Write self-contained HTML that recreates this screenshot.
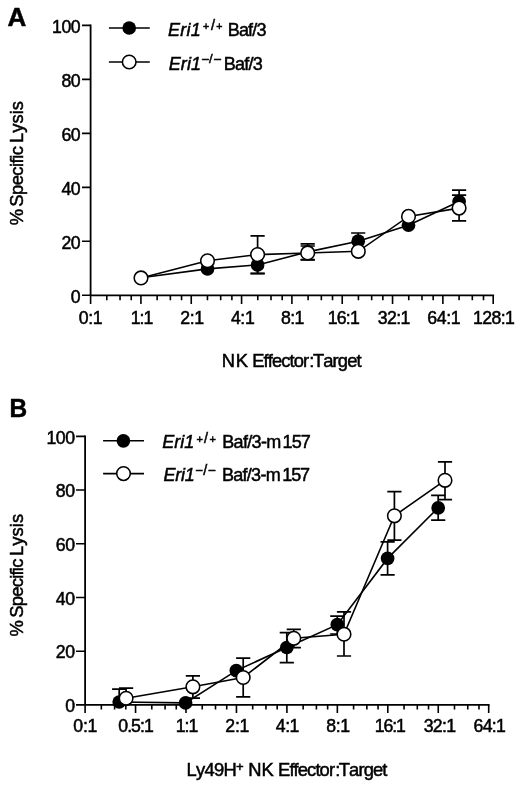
<!DOCTYPE html>
<html lang="en"><head><meta charset="utf-8"><title>Figure</title>
<style>
html,body{margin:0;padding:0;background:#fff}
svg{display:block}
text{font-family:'Liberation Sans',sans-serif;fill:#000;stroke:#000;stroke-width:0.5;font-kerning:none;white-space:pre}
.ln{stroke:#000;stroke-width:1.6;fill:none}
.ax{stroke:#000;stroke-width:1.8;fill:none}
.tk{stroke:#000;stroke-width:1.6;fill:none}
.eb{stroke:#000;stroke-width:1.7;fill:none}
.fc{fill:#000;stroke:none}
.oc{fill:#fff;stroke:#000;stroke-width:1.55}
</style></head>
<body>
<svg width="520" height="789" viewBox="0 0 520 789">
<rect width="520" height="789" fill="#fff"/>
<g id="panelA">
<path class="ax" d="M90.6 24.5V295.3"/>
<path class="ax" d="M90.6 295.3H494.1"/>
<path class="tk" d="M82 295.3H90.6M82 241.32H90.6M82 187.34H90.6M82 133.36H90.6M82 79.38H90.6M82 25.4H90.6M90.6 295.3V304M106.8 295.3V300.3M120.04 295.3V300.3M131.23 295.3V300.3M140.93 295.3V304M157.13 295.3V300.3M170.36 295.3V300.3M181.56 295.3V300.3M191.25 295.3V304M207.45 295.3V300.3M220.69 295.3V300.3M231.88 295.3V300.3M241.58 295.3V304M257.78 295.3V300.3M271.01 295.3V300.3M282.21 295.3V300.3M291.9 295.3V304M308.1 295.3V300.3M321.34 295.3V300.3M332.53 295.3V300.3M342.23 295.3V304M358.43 295.3V300.3M371.66 295.3V300.3M382.86 295.3V300.3M392.55 295.3V304M408.75 295.3V300.3M421.99 295.3V300.3M433.18 295.3V300.3M442.88 295.3V304M459.08 295.3V300.3M472.31 295.3V300.3M483.51 295.3V300.3M493.2 295.3V304"/>
<path class="ln" d="M141 277.8L207.5 268.9L257.6 264.9L307.7 251.9L358.2 241.2L408.5 225.2L459.1 201.6"/>
<path class="eb" d="M257.6 255.8V273.6M250.5 255.8H264.7M250.5 273.6H264.7M307.7 243.9V259.7M300.6 243.9H314.8M300.6 259.7H314.8M358.2 233V249.4M351.1 233H365.3M351.1 249.4H365.3M459.1 190.2V201.6M452 190.2H466.2"/>
<circle class="fc" cx="141" cy="277.8" r="6.85"/>
<circle class="fc" cx="207.5" cy="268.9" r="6.85"/>
<circle class="fc" cx="257.6" cy="264.9" r="6.85"/>
<circle class="fc" cx="307.7" cy="251.9" r="6.85"/>
<circle class="fc" cx="358.2" cy="241.2" r="6.85"/>
<circle class="fc" cx="408.5" cy="225.2" r="6.85"/>
<circle class="fc" cx="459.1" cy="201.6" r="6.85"/>
<path class="ln" d="M141 277.9L207.5 260.8L257.6 254.6L307.7 253L358.3 251.3L408.5 216.4L459.1 208.1"/>
<path class="eb" d="M257.6 235.8V273.4M250.5 235.8H264.7M250.5 273.4H264.7M307.7 246V259.8M300.6 246H314.8M300.6 259.8H314.8M459.1 195.2V220.9M452 195.2H466.2M452 220.9H466.2"/>
<circle class="oc" cx="141" cy="277.9" r="6.8"/>
<circle class="oc" cx="207.5" cy="260.8" r="6.8"/>
<circle class="oc" cx="257.6" cy="254.6" r="6.8"/>
<circle class="oc" cx="307.7" cy="253" r="6.8"/>
<circle class="oc" cx="358.3" cy="251.3" r="6.8"/>
<circle class="oc" cx="408.5" cy="216.4" r="6.8"/>
<circle class="oc" cx="459.1" cy="208.1" r="6.8"/>
<path class="ln" d="M108.9 28H149.8"/>
<circle class="fc" cx="129.2" cy="28" r="6.85"/>
<path class="ln" d="M108.9 62H149.8"/>
<circle class="oc" cx="129.2" cy="62" r="6.8"/>
</g>
<g id="panelB">
<path class="ax" d="M85.1 435.45V704.9"/>
<path class="ax" d="M85.1 704.9H489.6"/>
<path class="tk" d="M76 704.9H85.1M76 651.19H85.1M76 597.48H85.1M76 543.77H85.1M76 490.06H85.1M76 436.35H85.1M85.1 704.9V712.9M101.34 704.9V709.6M114.61 704.9V709.6M125.83 704.9V709.6M135.55 704.9V712.9M151.79 704.9V709.6M165.06 704.9V709.6M176.28 704.9V709.6M186 704.9V712.9M202.24 704.9V709.6M215.51 704.9V709.6M226.73 704.9V709.6M236.45 704.9V712.9M252.69 704.9V709.6M265.96 704.9V709.6M277.18 704.9V709.6M286.9 704.9V712.9M303.14 704.9V709.6M316.41 704.9V709.6M327.63 704.9V709.6M337.35 704.9V712.9M353.59 704.9V709.6M366.86 704.9V709.6M378.08 704.9V709.6M387.8 704.9V712.9M404.04 704.9V709.6M417.31 704.9V709.6M428.53 704.9V709.6M438.25 704.9V712.9M454.49 704.9V709.6M467.76 704.9V709.6M478.98 704.9V709.6M488.7 704.9V712.9"/>
<path class="ln" d="M119.2 702L185.6 702.9L236.3 670.6L286.8 647.5L337.3 624.7L387.6 558.4L438.2 507.8"/>
<path class="eb" d="M119.2 689.1V702M112.1 689.1H126.3M286.8 632.7V662.7M279.7 632.7H293.9M279.7 662.7H293.9M337.3 616.2V634M330.2 616.2H344.4M330.2 634H344.4M387.6 541.9V574.8M380.5 541.9H394.7M380.5 574.8H394.7M438.2 495.3V520.2M431.1 495.3H445.3M431.1 520.2H445.3"/>
<circle class="fc" cx="119.2" cy="702" r="6.85"/>
<circle class="fc" cx="185.6" cy="702.9" r="6.85"/>
<circle class="fc" cx="236.3" cy="670.6" r="6.85"/>
<circle class="fc" cx="286.8" cy="647.5" r="6.85"/>
<circle class="fc" cx="337.3" cy="624.7" r="6.85"/>
<circle class="fc" cx="387.6" cy="558.4" r="6.85"/>
<circle class="fc" cx="438.2" cy="507.8" r="6.85"/>
<path class="ln" d="M126.1 698.3L192.9 686.8L243.2 677.5L293.8 638.3L344 634.2L394.4 515.8L445 480.3"/>
<path class="eb" d="M126.1 688.2V698.3M119 688.2H133.2M192.9 675.8V698.1M185.8 675.8H200M185.8 698.1H200M243.2 658.1V696.9M236.1 658.1H250.3M236.1 696.9H250.3M293.8 629.3V647.7M286.7 629.3H300.9M286.7 647.7H300.9M344 611.8V656M336.9 611.8H351.1M336.9 656H351.1M394.4 491.7V540.2M387.3 491.7H401.5M387.3 540.2H401.5M445 461.8V499.6M437.9 461.8H452.1M437.9 499.6H452.1"/>
<circle class="oc" cx="126.1" cy="698.3" r="6.8"/>
<circle class="oc" cx="192.9" cy="686.8" r="6.8"/>
<circle class="oc" cx="243.2" cy="677.5" r="6.8"/>
<circle class="oc" cx="293.8" cy="638.3" r="6.8"/>
<circle class="oc" cx="344" cy="634.2" r="6.8"/>
<circle class="oc" cx="394.4" cy="515.8" r="6.8"/>
<circle class="oc" cx="445" cy="480.3" r="6.8"/>
<path class="ln" d="M103.1 440.8H144"/>
<circle class="fc" cx="123.4" cy="440.8" r="6.85"/>
<path class="ln" d="M103.1 473.6H144"/>
<circle class="oc" cx="123.5" cy="473.6" r="6.8"/>
</g>
<g id="labels">
<text transform="translate(7.59 25.6) scale(1.0014 1)" font-size="26" font-weight="bold" stroke-width="0.2">A</text>
<text transform="translate(9.57 417.2) scale(0.9488 1)" font-size="25.8" font-weight="bold" stroke-width="0.2">B</text>
<text x="70.8" y="302.6" font-size="17.7" letter-spacing="-0.500">0</text>
<text x="61.45" y="248.62" font-size="17.7" letter-spacing="-0.500">20</text>
<text x="61.45" y="194.64" font-size="17.7" letter-spacing="-0.500">40</text>
<text x="61.45" y="140.66" font-size="17.7" letter-spacing="-0.500">60</text>
<text x="61.45" y="86.68" font-size="17.7" letter-spacing="-0.500">80</text>
<text x="52.11" y="32.7" font-size="17.7" letter-spacing="-0.500">100</text>
<text x="65.2" y="712.2" font-size="17.7" letter-spacing="-0.500">0</text>
<text x="55.85" y="658.49" font-size="17.7" letter-spacing="-0.500">20</text>
<text x="55.85" y="604.78" font-size="17.7" letter-spacing="-0.500">40</text>
<text x="55.85" y="551.07" font-size="17.7" letter-spacing="-0.500">60</text>
<text x="55.85" y="497.36" font-size="17.7" letter-spacing="-0.500">80</text>
<text x="46.51" y="443.65" font-size="17.7" letter-spacing="-0.500">100</text>
<text x="78.85" y="324.4" font-size="17.7" letter-spacing="-0.402">0:1</text>
<text x="130.76" y="324.4" font-size="17.7" letter-spacing="-1.059">1:1</text>
<text x="180.37" y="324.4" font-size="17.7" letter-spacing="-0.464">2:1</text>
<text x="230.92" y="324.4" font-size="17.7" letter-spacing="-0.390">4:1</text>
<text x="280.95" y="324.4" font-size="17.7" letter-spacing="-0.552">8:1</text>
<text x="327.76" y="324.4" font-size="17.7" letter-spacing="-0.821">16:1</text>
<text x="377.65" y="324.4" font-size="17.7" letter-spacing="-0.549">32:1</text>
<text x="427.17" y="324.4" font-size="17.7" letter-spacing="-0.290">64:1</text>
<text x="473.06" y="324.4" font-size="17.7" letter-spacing="-0.589">128:1</text>
<text x="73.25" y="731.6" font-size="17.7" letter-spacing="-0.202">0:1</text>
<text x="118.25" y="731.6" font-size="17.7" letter-spacing="-0.941">0.5:1</text>
<text x="175.76" y="731.6" font-size="17.7" letter-spacing="-1.059">1:1</text>
<text x="225.37" y="731.6" font-size="17.7" letter-spacing="-0.264">2:1</text>
<text x="275.82" y="731.6" font-size="17.7" letter-spacing="-0.490">4:1</text>
<text x="326.25" y="731.6" font-size="17.7" letter-spacing="-0.352">8:1</text>
<text x="374.76" y="731.6" font-size="17.7" letter-spacing="-1.088">16:1</text>
<text x="423.75" y="731.6" font-size="17.7" letter-spacing="-0.716">32:1</text>
<text x="473.57" y="731.6" font-size="17.7" letter-spacing="-0.690">64:1</text>
<text transform="scale(0.9800 1)" font-size="18.75" y="367.1"><tspan x="226.39" y="367.1" letter-spacing="0.722">NK</tspan> <tspan x="257.31" y="367.1" letter-spacing="-0.903">Effector</tspan><tspan x="315.58" y="367.1">:</tspan><tspan x="319.3" y="367.1" letter-spacing="-0.874">Target</tspan></text>
<text transform="scale(0.9800 1)" font-size="18.75" y="776.2"><tspan x="190.37" y="776.2" letter-spacing="-0.710">Ly49H</tspan><tspan font-size="13.4" x="240.92" y="770.75">+</tspan> <tspan x="253.43" y="776.2" letter-spacing="-0.095">NK</tspan> <tspan x="283.74" y="776.2" letter-spacing="-0.917">Effector</tspan><tspan x="342.11" y="776.2">:</tspan><tspan x="345.73" y="776.2" letter-spacing="-0.915">Target</tspan></text>
<text transform="translate(23.1 0) rotate(-90) scale(0.9800 1)" font-size="18.75" y="0"><tspan x="-229.88" y="0">%</tspan> <tspan x="-210.99" y="0" letter-spacing="-0.522">Specific</tspan> <tspan x="-145.85" y="0" letter-spacing="0.037">Lysis</tspan></text>
<text transform="translate(22.7 0) rotate(-90) scale(0.9800 1)" font-size="18.75" y="0"><tspan x="-649.37" y="0">%</tspan> <tspan x="-630.28" y="0" letter-spacing="-0.769">Specific</tspan> <tspan x="-567.38" y="0" letter-spacing="0.088">Lysis</tspan></text>
<text transform="scale(0.9800 1)" font-size="18.4" y="35.8"><tspan x="171.35" y="35.8" letter-spacing="0.290" font-style="italic">Eri1</tspan><tspan font-size="10.8" x="207.2" y="30.34">+</tspan><tspan font-size="14.8" x="215.21" y="30.17">/</tspan><tspan font-size="10.8" x="220.67" y="30.34">+</tspan> <tspan x="232.34" y="35.8" letter-spacing="-0.833">Baf/3</tspan></text>
<text transform="scale(0.9800 1)" font-size="18.4" y="69.7"><tspan x="172.16" y="69.7" letter-spacing="0.086" font-style="italic">Eri1</tspan><tspan font-size="13.78" x="205.48" y="64.23">−</tspan><tspan font-size="13.47" x="213.28" y="63.29">/</tspan><tspan font-size="14.29" x="217.49" y="64.4">−</tspan> <tspan x="228.26" y="69.7" letter-spacing="-0.782">Baf/3</tspan></text>
<text transform="scale(0.9800 1)" font-size="18.4" y="448.2"><tspan x="165.53" y="448.2" letter-spacing="-0.016" font-style="italic">Eri1</tspan><tspan font-size="11.2" x="200.55" y="442.98">+</tspan><tspan font-size="14.67" x="208.24" y="442.67">/</tspan><tspan font-size="11.2" x="213.72" y="442.98">+</tspan> <tspan x="226.78" y="448.2" letter-spacing="-0.687">Baf/3-m</tspan><tspan x="288.29" y="448.2" letter-spacing="-0.857">157</tspan></text>
<text transform="scale(0.9800 1)" font-size="18.4" y="481.1"><tspan x="166.8" y="481.1" letter-spacing="-0.271" font-style="italic">Eri1</tspan><tspan font-size="13.47" x="199.57" y="475.22">−</tspan><tspan font-size="14.67" x="207.53" y="475.07">/</tspan><tspan font-size="13.88" x="212" y="475.36">−</tspan> <tspan x="226.42" y="481.1" letter-spacing="-0.729">Baf/3-m</tspan><tspan x="287.99" y="481.1" letter-spacing="-1.112">157</tspan></text>
</g>
</svg>
</body></html>
